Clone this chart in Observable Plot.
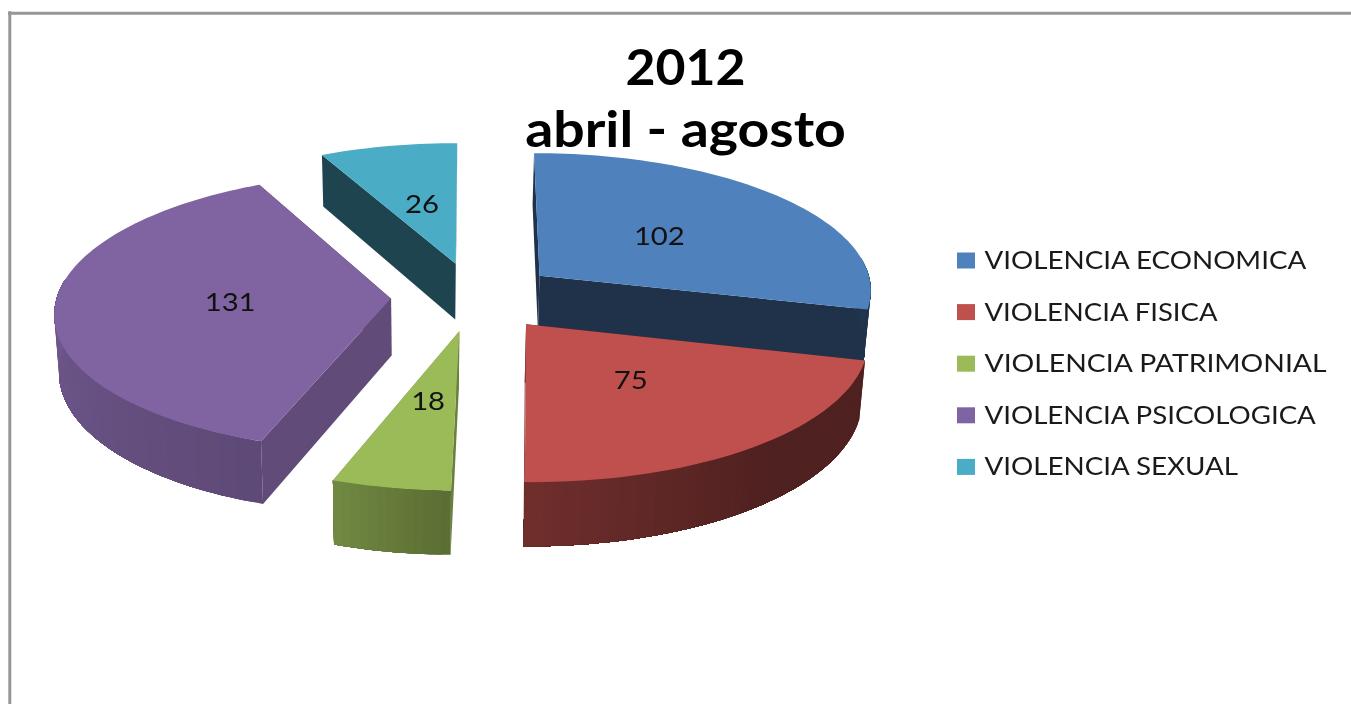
<!DOCTYPE html>
<html>
<head>
<meta charset="utf-8">
<script src="https://cdn.jsdelivr.net/npm/d3@7"></script>
<script src="https://cdn.jsdelivr.net/npm/@observablehq/plot@0.6"></script>
<style>html,body{margin:0;padding:0;background:#fff;overflow:hidden}</style>
</head>
<body>
<div id="chart"></div>
<script>
const categories = ["VIOLENCIA ECONOMICA","VIOLENCIA FISICA","VIOLENCIA PATRIMONIAL","VIOLENCIA PSICOLOGICA","VIOLENCIA SEXUAL"];
const values = [102,75,18,131,26];
const colors = ["#4f81bd","#c0504d","#9bbb59","#8064a2","#4bacc6"];
const titleLines = ["2012","abril - agosto"];
const paintOrder = [4,0,3,1,2];

const W = 1351, H = 704;
const total = d3.sum(values);
// pseudo-3D camera for the exploded pie
const cam = {cx:474, cy:296, rx:334, ry:137.6, k:0.093, explode:0.25, depth:57, vanish:420, shrink:0.987};
const arcShade = d3.scaleLinear([104,140,181,199,270],[0.41,0.41,0.58,0.73,0.87]).clamp(true);
const cutShade = d3.scaleLinear([104,199,333],[0.39,0.75,0.40]).clamp(true);
const shade = (c,f)=>{const r=d3.rgb(c);return d3.rgb(r.r*f,r.g*f,r.b*f).formatHex();};

function project(X,Y,bottom){
  const s = 1/(1-cam.k*Y);
  let x = cam.cx + cam.rx*X*s, y = cam.cy + cam.ry*Y*s;
  if(bottom){ x = cam.vanish + (x-cam.vanish)*cam.shrink; y += cam.depth*s; }
  return [x,y];
}
let acc = 0;
const slices = values.map((v,i)=>{
  const a0 = acc; acc += v/total*360;
  return {i, a0, a1:acc, mid:(a0+acc)/2};
});
const rad = d=>d*Math.PI/180;
function disk(sl,deg,r){
  const m = rad(sl.mid), t = rad(deg);
  return [cam.explode*Math.sin(m)+r*Math.sin(t), -cam.explode*Math.cos(m)-r*Math.cos(t)];
}
const polys = [];
let pid = 0;
function addPoly(points,fill){
  const id = pid++;
  for(const [x,y] of points) polys.push({id,x,y,fill});
}
for(const si of paintOrder){
  const sl = slices[si], c = colors[si];
  const P = (deg,r,b)=>{const [X,Y]=disk(sl,deg,r);return project(X,Y,b);};
  // radial cut faces: the one further back first
  const cuts = [sl.a0,sl.a1].sort((a,b)=>P(a,1,false)[1]-P(b,1,false)[1]);
  for(const a of cuts){
    addPoly([P(a,0,false),P(a,1,false),P(a,1,true),P(a,0,true)],shade(c,cutShade(a)));
  }
  // outer wall: overlapping strips so no background shows between shades
  const n = Math.ceil((sl.a1-sl.a0)/1.5);
  const step = (sl.a1-sl.a0)/n;
  const angles = d3.range(n+1).map(j=>sl.a0+j*step).filter(a=>Math.cos(rad(a))<0.15);
  for(let j=0;j<angles.length-1;j++){
    const rest = angles.slice(j);
    addPoly([...rest.map(a=>P(a,1,false)),...rest.slice().reverse().map(a=>P(a,1,true))],
      shade(c,arcShade(angles[j]+step/2)));
  }
  // top face
  const top=[P(sl.a0,0,false)];
  for(let j=0;j<=n;j++) top.push(P(sl.a0+j*step,1,false));
  addPoly(top,c);
}
const labels = slices.map(sl=>{
  const [X,Y]=disk(sl,sl.mid,0.48);
  const [x,y]=project(X,Y,false);
  return {x,y,text:String(values[sl.i])};
});
const legend = categories.map((name,i)=>({name,y:260.5+i*51.6}));
const titles = titleLines.map((t,i)=>({t,y:68+i*62}));

const plot = Plot.plot({
  width:W, height:H, margin:0,
  x:{domain:[0,W],range:[0,W],axis:null},
  y:{domain:[0,H],range:[0,H],axis:null},
  color:{domain:categories,range:colors},
  style:{background:"#fff",filter:"blur(0.5px)"},
  marks:[
    Plot.ruleY([12.8],{x1:8,x2:W,stroke:"#969696",strokeWidth:3}),
    Plot.ruleX([9.3],{y1:11.3,y2:H,stroke:"#969696",strokeWidth:3}),
    Plot.line(polys,{x:"x",y:"y",z:"id",fill:"fill",curve:"linear",strokeWidth:0,stroke:"none"}),
    Plot.text(labels,{x:"x",y:"y",text:"text",fontFamily:"Lato",fontSize:25,fill:"#111",lineAnchor:"middle"}),
    Plot.text(titles,{x:()=>685,y:"y",text:"t",fontFamily:"Lato",fontWeight:"bold",fontSize:50,fill:"#000",lineAnchor:"middle"}),
    Plot.rect(legend,{x1:()=>957,x2:()=>975,y1:d=>d.y-8,y2:d=>d.y+8,fill:"name"}),
    Plot.text(legend,{x:()=>984,y:"y",text:"name",textAnchor:"start",lineAnchor:"middle",fontFamily:"Lato",fontSize:25,fill:"#1a1a1a"})
  ]
});
document.getElementById("chart").appendChild(plot);
// the reference's text is horizontally stretched
const textGroups = plot.querySelectorAll('g[aria-label="text"]');
function stretch(group,ratio){
  group.querySelectorAll("text").forEach((t,i)=>{
    const r = Array.isArray(ratio)?ratio[i]:ratio;
    t.setAttribute("textLength",t.getComputedTextLength()*r);
    t.setAttribute("lengthAdjust","spacingAndGlyphs");
  });
}
stretch(textGroups[0],1.17);
stretch(textGroups[1],[1.035,1.107]);
stretch(textGroups[2],[1.11,1.10,1.133,1.107,1.11]);
</script>
</body>
</html>
